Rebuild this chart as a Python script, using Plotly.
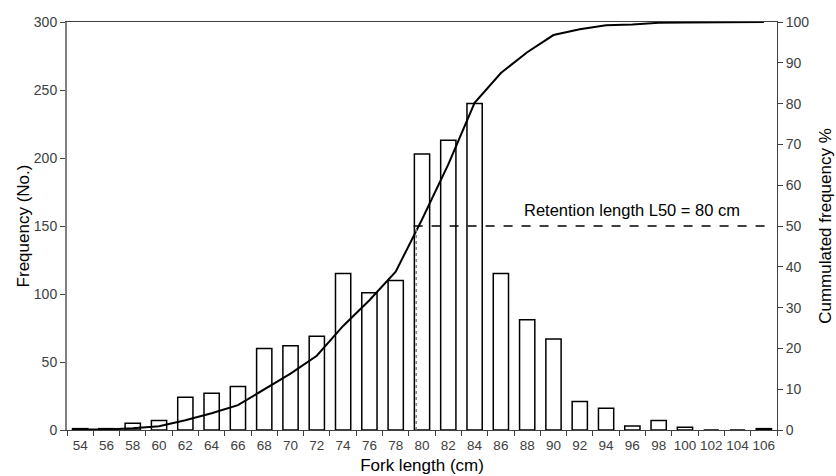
import plotly.graph_objects as go

fork_length = ["54", "56", "58", "60", "62", "64", "66", "68", "70", "72", "74", "76", "78",
               "80", "82", "84", "86", "88", "90", "92", "94", "96", "98", "100", "102", "104", "106"]
frequency = [1, 1, 5, 7, 24, 27, 32, 60, 62, 69, 115, 101, 110,
             203, 213, 240, 115, 81, 67, 21, 16, 3, 7, 2, 0, 0, 1]
cumulated_pct = [0.1, 0.1, 0.4, 0.9, 2.4, 4.1, 6.1, 9.9, 13.8, 18.2, 25.5, 31.8, 38.8,
                 51.6, 65.1, 80.2, 87.5, 92.6, 96.8, 98.2, 99.2, 99.4, 99.8, 99.9, 99.9, 99.9, 100]
l50_index = 12.78
l50_pct = 50
label_text = "Retention length L50 = 80 cm"

font_family = "Liberation Sans, Arial, sans-serif"

fig = go.Figure()
fig.add_trace(go.Bar(
    x=fork_length, y=frequency, width=0.58,
    marker=dict(color="white", line=dict(color="black", width=1.5)),
    yaxis="y", showlegend=False,
))
fig.add_trace(go.Scatter(
    x=fork_length, y=cumulated_pct, mode="lines",
    line=dict(color="black", width=2),
    yaxis="y2", showlegend=False,
))

fig.add_shape(type="line", xref="x", yref="y2", x0=l50_index, x1=l50_index, y0=0, y1=l50_pct,
              line=dict(color="#808080", width=1.5, dash="dot"))
fig.add_shape(type="line", xref="x", yref="y2", x0=l50_index - 0.1, x1=26.3, y0=l50_pct, y1=l50_pct,
              line=dict(color="black", width=1.5, dash="dash"))
fig.add_annotation(x=21, y=54, xref="x", yref="y2", text=label_text, showarrow=False,
                   font=dict(family=font_family, size=16.5, color="black"))

fig.update_layout(
    width=836, height=476,
    margin=dict(l=67, r=59, t=22, b=46),
    plot_bgcolor="white", paper_bgcolor="white",
    font=dict(family=font_family, color="#404040"),
    xaxis=dict(
        type="category", tickson="boundaries", range=[-0.5, 26.5], tickangle=0,
        showline=True, linecolor="#404040", linewidth=1, mirror=True, automargin=False,
        ticks="outside", ticklen=5, tickcolor="#404040",
        tickfont=dict(size=13.5, color="#404040"), ticklabelstandoff=3,
        title=dict(text="Fork length (cm)", font=dict(size=17, color="black"), standoff=6),
        showgrid=False, zeroline=False,
    ),
    yaxis=dict(
        range=[0, 300], dtick=50, showline=True, linecolor="#808080", linewidth=2, automargin=False,
        ticks="outside", ticklen=5, tickcolor="#404040",
        tickfont=dict(size=14, color="#404040"),
        title=dict(text="Frequency (No.)", font=dict(size=17, color="black"), standoff=0),
        showgrid=False, zeroline=False,
    ),
    yaxis2=dict(
        range=[0, 100], dtick=10, overlaying="y", side="right", automargin=False,
        showline=True, linecolor="#404040", linewidth=1,
        ticks="outside", ticklen=5, tickcolor="#404040",
        tickfont=dict(size=14, color="#404040"),
        title=dict(text="Cummulated frequency %", font=dict(size=17, color="black"), standoff=10),
        showgrid=False, zeroline=False,
    ),
)

fig.write_html("out.html")
